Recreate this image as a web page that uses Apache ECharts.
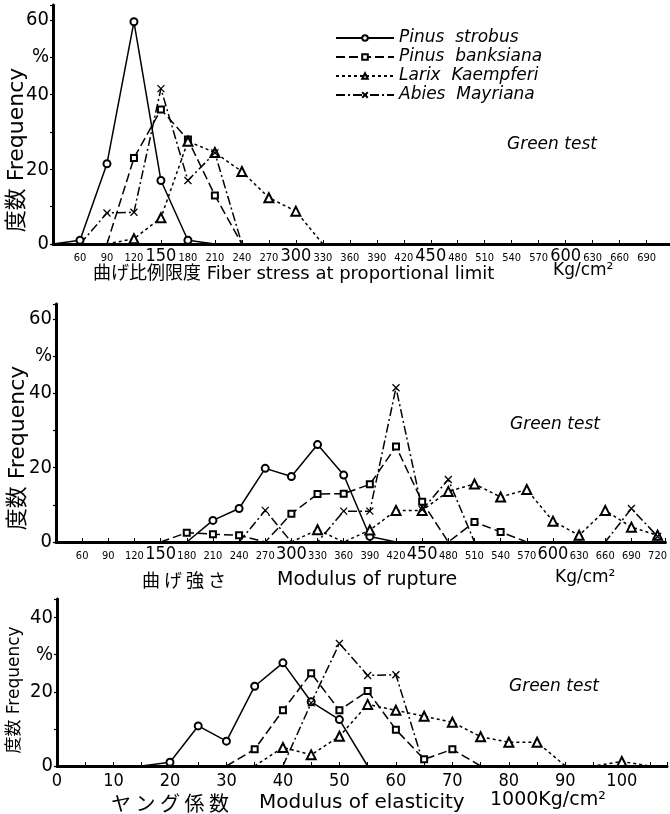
<!DOCTYPE html>
<html><head><meta charset="utf-8">
<script src="https://cdn.jsdelivr.net/npm/echarts@6/dist/echarts.min.js"></script>
<style>html,body{margin:0;padding:0;background:#fff}#c{width:670px;height:814px}</style>
</head><body><div id="c"></div>
<script>
// ---------- data ----------
const seriesNames = ['Pinus strobus', 'Pinus banksiana', 'Larix Kaempferi', 'Abies Mayriana'];

// Panel 1: Fiber stress at proportional limit (Kg/cm2) -> frequency %
const strobusP1   = [[30,0],[60,1],[90,21.5],[120,59.5],[150,17],[180,1],[210,0]];
const banksianaP1 = [[90,0],[120,23],[150,36],[180,28],[210,13],[240,0]];
const larixP1     = [[90,0],[120,1.4],[150,7],[180,27.5],[210,24.5],[240,19.4],[270,12.4],[300,8.8],[330,0]];
const abiesP1     = [[60,0],[90,8.3],[120,8.5],[150,41.6],[180,17],[210,24.4],[240,0]];

// Panel 2: Modulus of rupture (Kg/cm2)
const strobusP2   = [[180,0],[210,5.8],[240,9.0],[270,19.8],[300,17.6],[330,26.2],[360,18],[390,1.5],[420,0]];
const banksianaP2 = [[150,0],[180,2.5],[210,2.1],[240,1.8],[270,0],[300,7.6],[330,12.9],[360,13],[390,15.5],[420,25.7],[450,10.8],[480,0],[510,5.4],[540,2.7],[570,0]];
const larixP2     = [[300,0],[330,3.3],[360,0],[390,3.2],[420,8.5],[450,8.5],[480,13.6],[510,15.6],[540,12.1],[570,14.1],[600,5.6],[630,1.8],[660,8.5],[690,4.0],[720,1.8]];
const abiesP2     = [[240,0],[270,8.5],[300,0],[330,0],[360,8.3],[390,8.3],[420,41.5],[450,8.7],[480,16.8],[510,0],[660,0],[690,9],[720,1.5]];

// Panel 3: Modulus of elasticity (1000 Kg/cm2)
const strobusP3   = [[15,0],[20,1],[25,10.8],[30,6.7],[35,21.5],[40,27.8],[45,17.3],[50,12.5],[55,0]];
const banksianaP3 = [[30,0],[35,4.5],[40,15],[45,25],[50,15],[55,20.2],[60,9.8],[65,1.8],[70,4.5],[75,0]];
const larixP3     = [[35,0],[40,5],[45,3],[50,8],[55,16.6],[60,15],[65,13.4],[70,11.8],[75,7.9],[80,6.4],[85,6.4],[90,0],[95,0],[100,1.2],[105,0]];
const abiesP3     = [[40,0],[45,17],[50,33],[55,24.4],[60,24.6],[65,0]];

// tick label settings
const bigTicksRupture = [150, 300, 450, 600];
const yLabelsTall = {0:'0', 20:'20', 40:'40', 50:'%', 60:'60'};
const yLabelsShort = {0:'0', 20:'20', 30:'%', 40:'40'};

// ---------- styles ----------
const numFont = '"Liberation Sans Narrow","DejaVu Sans Condensed","Liberation Sans",sans-serif';
const handFont = '"DejaVu Sans","Open Sans",sans-serif';
const txtFont = '"DejaVu Sans","Noto Sans CJK JP",sans-serif';
const cjkFont = '"Noto Sans CJK JP",sans-serif';
const styles = [
  {symbol:'emptyCircle', symbolSize:7, type:'solid'},
  {symbol:'emptyRect', symbolSize:6, type:[9,4]},
  {symbol:'emptyTriangle', symbolSize:9, type:[3,3]},
  {symbol:'path://M0,0L10,10M10,0L0,10', symbolSize:7, type:[9,3,2,3]}
];
const panels = [
  [strobusP1, banksianaP1, larixP1, abiesP1],
  [strobusP2, banksianaP2, larixP2, abiesP2],
  [strobusP3, banksianaP3, larixP3, abiesP3]
];

const series = [];
panels.forEach((set, pi) => {
  set.forEach((pts, si) => {
    const st = styles[si];
    series.push({
      name: seriesNames[si], type: 'line', xAxisIndex: pi, yAxisIndex: pi,
      symbol: st.symbol, symbolSize: st.symbolSize,
      data: pts.map(p => p[1] === 0 ? {value: p, symbol: 'none'} : p),
      lineStyle: {color: '#000', width: 1.5, type: st.type},
      itemStyle: {color: '#000', borderColor: '#000', borderWidth: si === 2 ? 1 : 1.3},
      z: 3, animation: false
    });
  });
});

function xLabelRupture(isTop) {
  return function (v) {
    if (v % 30 !== 0 || v === 30) return '';
    if (isTop && v >= 720) return '';
    if (v > 720) return '';
    return bigTicksRupture.indexOf(v) >= 0 ? '{b|' + v + '}' : '{s|' + v + '}';
  };
}
const richX = {
  s: {fontSize: 11, fontFamily: numFont, color: '#000', lineHeight: 18, padding: [4,0,0,0]},
  b: {fontSize: 18, fontFamily: numFont, color: '#000', lineHeight: 18}
};
const axisLineStyle = {show: true, onZero: false, lineStyle: {color: '#000', width: 3}};

function yAxisCfg(grid, max, labels) {
  return {
    type: 'value', gridIndex: grid, min: 0, max: max, interval: 10,
    axisLine: axisLineStyle, splitLine: {show: false},
    axisTick: {show: true, length: 3, lineStyle: {color: '#000', width: 1.2}},
    axisLabel: {margin: 4, color: '#000', fontFamily: numFont, fontSize: 20,
      formatter: v => labels[v] !== undefined ? labels[v] : ''}
  };
}

function txt(x, y, text, size, fam, opts) {
  opts = opts || {};
  return {type: 'text', x: x, y: y, rotation: opts.rotation || 0,
    style: {text: text, font: (opts.italic ? 'italic ' : '') + size + 'px ' + fam, fill: '#000',
      align: opts.align || 'left', verticalAlign: 'middle'}};
}

const option = {
  backgroundColor: '#fff',
  animation: false,
  grid: [
    {left: 53, top: 5, width: 617, height: 239},
    {left: 56, top: 304, width: 612, height: 238},
    {left: 57, top: 599, width: 610, height: 167}
  ],
  xAxis: [
    {type: 'value', gridIndex: 0, min: 30, max: 716, interval: 30,
      axisLine: axisLineStyle, splitLine: {show: false},
      axisTick: {show: true, inside: true, length: 4, lineStyle: {color: '#000'}},
      axisLabel: {margin: 3, formatter: xLabelRupture(true), rich: richX, showMaxLabel: false}},
    {type: 'value', gridIndex: 1, min: 30, max: 729, interval: 30,
      axisLine: axisLineStyle, splitLine: {show: false},
      axisTick: {show: true, inside: true, length: 4, lineStyle: {color: '#000'}},
      axisLabel: {margin: 3, formatter: xLabelRupture(false), rich: richX}},
    {type: 'value', gridIndex: 2, min: 0, max: 108, interval: 5,
      axisLine: axisLineStyle, splitLine: {show: false},
      axisTick: {show: true, inside: true, length: 4, lineStyle: {color: '#000'}},
      axisLabel: {margin: 6, color: '#000', fontFamily: numFont, fontSize: 18,
        formatter: v => (v % 10 === 0 && v <= 100 ? String(v) : '')}}
  ],
  yAxis: [
    yAxisCfg(0, 64, yLabelsTall),
    yAxisCfg(1, 64, yLabelsTall),
    yAxisCfg(2, 45, yLabelsShort)
  ],
  legend: {
    data: seriesNames, orient: 'vertical', left: 330, top: 24,
    itemWidth: 58, itemHeight: 7, itemGap: 1,
    formatter: n => n.replace(' ', '  '),
    textStyle: {fontFamily: handFont, fontStyle: 'italic', fontSize: 17, color: '#000', lineHeight: 18},
    selectedMode: false
  },
  graphic: [
    txt(17, 150, '度数 Frequency', 22, txtFont, {rotation: Math.PI / 2, align: 'center'}),
    txt(18, 448, '度数 Frequency', 22, txtFont, {rotation: Math.PI / 2, align: 'center'}),
    txt(15, 690, '度数 Frequency', 17, txtFont, {rotation: Math.PI / 2, align: 'center'}),

    txt(93, 274, '曲げ比例限度 Fiber stress at proportional limit', 18, txtFont),
    txt(553, 271, 'Kg/cm²', 17, txtFont),
    txt(142, 580, '曲 げ 強 さ', 18, cjkFont),
    txt(277, 580, 'Modulus of rupture', 19, txtFont),
    txt(555, 578, 'Kg/cm²', 17, txtFont),
    txt(111, 803, 'ヤ ン グ 係 数', 20, cjkFont),
    txt(259, 803, 'Modulus of elasticity', 20, txtFont),
    txt(490, 800, '1000Kg/cm²', 19, txtFont),

    txt(507, 145, 'Green test', 17, handFont, {italic: true}),
    txt(510, 425, 'Green test', 17, handFont, {italic: true}),
    txt(509, 687, 'Green test', 17, handFont, {italic: true})
  ],
  series: series
};
const chart = echarts.init(document.getElementById('c'), null, {renderer: 'canvas'});
chart.setOption(option);
</script></body></html>
